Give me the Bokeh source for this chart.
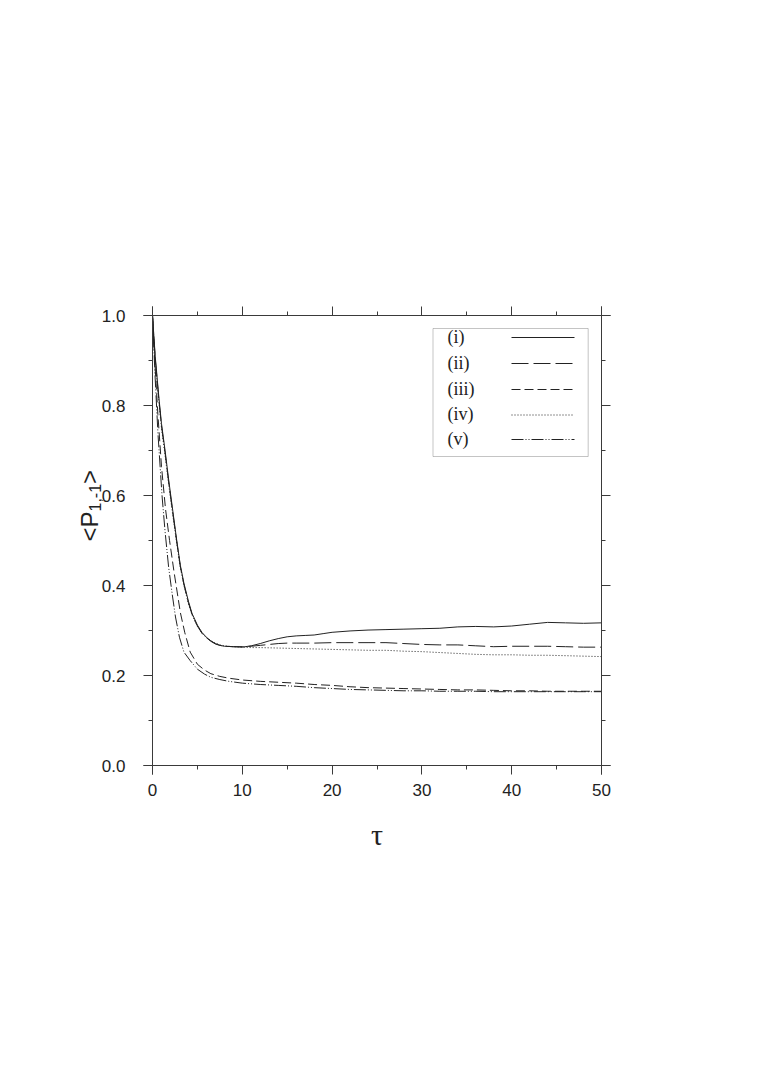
import math
from bokeh.plotting import figure
from bokeh.models import (LinearAxis, FixedTicker, NumeralTickFormatter, BoxAnnotation,
                          Label, Range1d, CustomJSTickFormatter)
from bokeh.embed import file_html
from bokeh.resources import INLINE

# ---------------- data ----------------
tau_i = [0, 0.3, 0.7, 1.0, 1.4, 1.8, 2.2, 2.7, 3.1, 3.5, 4.0, 4.4, 5.0, 5.5, 6.0, 6.5, 7.0, 7.5, 8.0, 9.0,
         10, 11, 12, 13, 14, 15, 16, 17, 18, 19, 20, 22, 24, 26, 28, 30, 32, 34, 36, 38, 40, 42, 44, 46, 48, 50]
p_i = [1.0, 0.91, 0.82, 0.76, 0.70, 0.635, 0.575, 0.50, 0.445, 0.405, 0.365, 0.338, 0.312, 0.296, 0.285,
       0.277, 0.271, 0.267, 0.265, 0.264, 0.263, 0.266, 0.271, 0.277, 0.282, 0.286, 0.288, 0.289, 0.290,
       0.293, 0.296, 0.299, 0.301, 0.302, 0.303, 0.304, 0.305, 0.308, 0.309, 0.308, 0.310, 0.314, 0.318,
       0.317, 0.316, 0.317]

tau_ii = [0, 0.3, 0.7, 1.0, 1.4, 1.8, 2.2, 2.7, 3.1, 3.5, 4.0, 4.4, 5.0, 5.5, 6.0, 6.5, 7.0, 7.5, 8.0, 9.0,
          10, 11, 12, 13, 14, 15, 16, 18, 20, 22, 24, 26, 28, 30, 32, 34, 36, 38, 40, 42, 44, 46, 48, 50]
p_ii = [1.0, 0.905, 0.815, 0.755, 0.695, 0.63, 0.57, 0.497, 0.442, 0.402, 0.362, 0.336, 0.310, 0.294,
        0.284, 0.276, 0.270, 0.267, 0.265, 0.264, 0.264, 0.265, 0.267, 0.269, 0.271, 0.272, 0.272, 0.272,
        0.273, 0.273, 0.273, 0.273, 0.271, 0.269, 0.268, 0.268, 0.266, 0.264, 0.265, 0.265, 0.265, 0.264,
        0.263, 0.263]

tau_iii = [0, 0.25, 0.6, 1.0, 1.45, 1.9, 2.4, 3.1, 3.6, 4.2, 5.0, 5.8, 6.5, 7.5, 8.5, 10, 12, 14, 16, 18,
           20, 22, 24, 26, 28, 30, 32, 34, 36, 38, 40, 42, 44, 46, 48, 50]
p_iii = [1.0, 0.90, 0.78, 0.665, 0.57, 0.50, 0.43, 0.34, 0.295, 0.252, 0.225, 0.212, 0.204, 0.198, 0.194,
         0.190, 0.187, 0.185, 0.183, 0.180, 0.178, 0.175, 0.173, 0.172, 0.171, 0.170, 0.169, 0.168, 0.168,
         0.167, 0.166, 0.166, 0.165, 0.165, 0.165, 0.165]

tau_iv = [0, 0.3, 0.7, 1.0, 1.4, 1.8, 2.2, 2.7, 3.1, 3.5, 4.0, 4.4, 5.0, 5.5, 6.0, 6.5, 7.0, 7.5, 8.0, 9.0,
          10, 11, 12, 14, 16, 18, 20, 22, 24, 26, 28, 30, 32, 34, 36, 38, 40, 42, 44, 46, 48, 50]
p_iv = [1.0, 0.90, 0.81, 0.75, 0.69, 0.625, 0.565, 0.494, 0.44, 0.40, 0.36, 0.335, 0.309, 0.294, 0.284,
        0.277, 0.272, 0.268, 0.266, 0.264, 0.263, 0.262, 0.262, 0.261, 0.260, 0.259, 0.258, 0.257, 0.256,
        0.256, 0.254, 0.253, 0.251, 0.249, 0.247, 0.246, 0.246, 0.245, 0.245, 0.244, 0.243, 0.242]

tau_v = [0, 0.25, 0.6, 1.06, 1.4, 1.8, 2.2, 2.56, 3.0, 3.5, 4.2, 5.0, 5.8, 6.5, 7.5, 8.5, 10, 12, 14, 16,
         18, 20, 22, 24, 26, 28, 30, 32, 34, 36, 38, 40, 42, 44, 46, 48, 50]
p_v = [1.0, 0.88, 0.74, 0.60, 0.52, 0.44, 0.38, 0.33, 0.285, 0.252, 0.233, 0.214, 0.203, 0.196, 0.191,
       0.187, 0.183, 0.180, 0.178, 0.176, 0.173, 0.171, 0.169, 0.168, 0.167, 0.166, 0.166, 0.165, 0.165,
       0.165, 0.164, 0.164, 0.164, 0.164, 0.164, 0.164, 0.164]

series_labels = ["(i)", "(ii)", "(iii)", "(iv)", "(v)"]
x_ticks = [0, 10, 20, 30, 40, 50]
x_minor = [5, 15, 25, 35, 45]
y_ticks = [0.0, 0.2, 0.4, 0.6, 0.8, 1.0]
y_minor = [0.1, 0.3, 0.5, 0.7, 0.9]

# ---------------- styling / layout ----------------
INK = "#222222"
AX = "#3a3a3a"
dashes = ["solid", "17 5", "9 4", "1 2", "12 2 1 2 1 2"]

# canvas size and its page offset (the frame fills the whole canvas)
W, H = 747, 1060
OX, OY = 0, 0

# page-pixel -> data helpers (reference: x 0->152px, 50->601px; y 1->315px, 0->765px)
def dx(px):
    return (px - 152) / 8.98

def dy(py):
    return (765 - py) / 450.0

p = figure(frame_width=W, frame_height=H,
           x_range=Range1d(dx(OX), dx(OX + W)), y_range=Range1d(dy(OY + H), dy(OY)),
           output_backend="svg", toolbar_location=None,
           x_axis_location=None, y_axis_location=None, min_border=0)
p.outline_line_color = None
p.xgrid.visible = False
p.ygrid.visible = False
p.background_fill_color = "white"
p.border_fill_color = "white"

XB = (dx(143), dx(610))
YB = (dy(774), dy(306))

def style_axis(ax, show_labels):
    ax.axis_line_color = AX
    ax.axis_line_width = 1
    ax.major_tick_line_color = AX
    ax.minor_tick_line_color = AX
    ax.major_tick_in = 0
    ax.major_tick_out = 9
    ax.minor_tick_in = 0
    ax.minor_tick_out = 4
    ax.major_label_text_font = "Liberation Sans"
    ax.major_label_text_font_size = "17px"
    ax.major_label_text_color = INK
    if not show_labels:
        ax.formatter = CustomJSTickFormatter(code="return ''")

xb = LinearAxis(ticker=FixedTicker(ticks=x_ticks, minor_ticks=x_minor), fixed_location=0.0, bounds=XB)
style_axis(xb, True)
xb.major_label_standoff = 9
p.add_layout(xb, "below")

xt = LinearAxis(ticker=FixedTicker(ticks=x_ticks, minor_ticks=x_minor), fixed_location=1.0, bounds=XB)
style_axis(xt, False)
p.add_layout(xt, "above")

yl = LinearAxis(ticker=FixedTicker(ticks=y_ticks, minor_ticks=y_minor), fixed_location=0.0, bounds=YB,
                formatter=NumeralTickFormatter(format="0.0"))
style_axis(yl, True)
yl.major_label_standoff = 18
p.add_layout(yl, "left")

yr = LinearAxis(ticker=FixedTicker(ticks=y_ticks, minor_ticks=y_minor), fixed_location=50.0, bounds=YB)
style_axis(yr, False)
p.add_layout(yr, "right")

# ---------------- curves ----------------
all_tau = [tau_i, tau_ii, tau_iii, tau_iv, tau_v]
all_p = [p_i, p_ii, p_iii, p_iv, p_v]
for t, v, d in zip(all_tau, all_p, dashes):
    p.line(t, v, line_color=INK, line_width=1, line_dash=d)

# ---------------- legend (box, labels on the left, samples on the right) ----------------
p.add_layout(BoxAnnotation(left=dx(432.5), right=dx(587.7), top=dy(328), bottom=dy(456),
                           fill_color="white", fill_alpha=1.0, line_color=AX, line_width=1,
                           level="underlay"))
row_y = [336, 362, 388, 413.5, 438]
for lab, d, ry in zip(series_labels, dashes, row_y):
    p.add_layout(Label(x=dx(447), y=dy(ry), text=lab, text_font="Liberation Serif",
                       text_font_size="18px", text_color=INK, text_align="left",
                       text_baseline="middle"))
    p.line([dx(511), dx(574)], [dy(ry + 1), dy(ry + 1)], line_color=INK, line_width=1, line_dash=d)

# ---------------- axis titles ----------------
p.add_layout(Label(x=25.0, y=dy(834), text="\u03c4", text_font="Liberation Serif",
                   text_font_size="30px", text_color=INK, text_align="center",
                   text_baseline="middle"))

ang = math.pi / 2
base_x = dx(89)
p.add_layout(Label(x=base_x, y=dy(541), text="<P", text_font="Liberation Sans",
                   text_font_size="24px", text_color=INK, text_align="left",
                   text_baseline="alphabetic", angle=ang))
p.add_layout(Label(x=dx(94), y=dy(541 - 30.0), text="1,-1", text_font="Liberation Sans",
                   text_font_size="16px", text_color=INK, text_align="left",
                   text_baseline="alphabetic", angle=ang))
p.add_layout(Label(x=base_x, y=dy(541 - 30.0 - 27.6), text=">", text_font="Liberation Sans",
                   text_font_size="24px", text_color=INK, text_align="left",
                   text_baseline="alphabetic", angle=ang))

open("out.html", "w").write(file_html(p, INLINE))
